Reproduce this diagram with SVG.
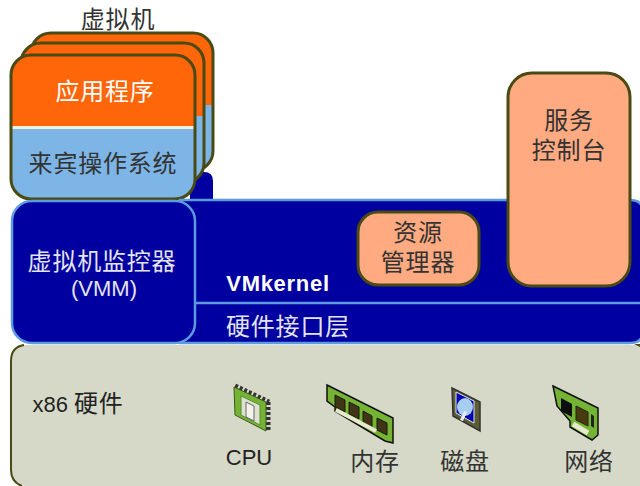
<svg xmlns="http://www.w3.org/2000/svg" width="640" height="486" viewBox="0 0 640 486">
<style>
text{font-family:"Liberation Sans","Noto Sans CJK SC",sans-serif;font-size:24px;letter-spacing:.8px;text-anchor:middle}
.l{font-size:22px;letter-spacing:0}
.w{fill:#fff}.k{fill:#333}.p{fill:#e4e4f0}
.edge{fill:none;stroke:#4a4a14;stroke-width:3}
.blue{fill:#0000a0;stroke:#5c9be0;stroke-width:2.500}
.salmon{fill:#ffaa80;stroke:#4a4a14;stroke-width:3}
.pcb{fill:#74b334;stroke:#111;stroke-width:1.500}
.chip{fill:#3f3512;stroke:#1a1a0a;stroke-width:1}
.icon{filter:url(#soft)}
</style>
<defs>
<filter id="soft" x="-10%" y="-10%" width="120%" height="120%"><feGaussianBlur stdDeviation=".5"/></filter>
<clipPath id="c3"><rect x="31" y="33" width="182" height="138" rx="20"/></clipPath>
<clipPath id="c2"><rect x="21" y="43" width="183" height="140" rx="20"/></clipPath>
<clipPath id="c1"><rect x="11" y="55" width="184" height="144" rx="20"/></clipPath>
</defs>
<rect width="640" height="486" fill="#fff"/>
<g id="vm-base"><path d="M190 172H204Q213 172 213 181V199H190Z" fill="#0000a0"/></g>
<g id="vm-back">
<g clip-path="url(#c3)"><rect x="31" y="33" width="182" height="138" fill="#7db5e6"/><rect x="31" y="33" width="182" height="72" fill="#ff660a"/></g>
<rect class="edge" x="31" y="33" width="182" height="138" rx="20"/>
</g>
<g id="vm-middle">
<g clip-path="url(#c2)"><rect x="21" y="43" width="183" height="140" fill="#7db5e6"/><rect x="21" y="43" width="183" height="73" fill="#ff660a"/></g>
<rect class="edge" x="21" y="43" width="183" height="140" rx="20"/>
</g>
<g id="vm-front">
<g clip-path="url(#c1)"><rect x="11" y="55" width="184" height="144" fill="#7db5e6"/><rect x="11" y="55" width="184" height="71" fill="#ff660a"/><rect x="11" y="126" width="184" height="3" fill="#f4f0e0"/></g>
<rect class="edge" x="11" y="55" width="184" height="144" rx="20"/>
<text class="w" x="105" y="100">应用程序</text>
<text class="k" x="103" y="172">来宾操作系统</text>
</g>
<text id="vm-label" class="k" x="118" y="28">虚拟机</text>
<g id="vmkernel">
<path class="blue" d="M180 200H630Q643 200 643 212V331Q643 343 630 343H180Z"/>
<path d="M195 303H640" stroke="#5c9be0" stroke-width="2.500" fill="none"/>
<text class="w l" x="278" y="291" style="font-weight:bold;font-size:22px;letter-spacing:.7px">VMkernel</text>
<text class="p" x="288" y="335">硬件接口层</text>
</g>
<g id="vmm">
<rect class="blue" x="12" y="201" width="183" height="142" rx="20"/>
<text class="p" x="102" y="270">虚拟机监控器</text>
<text class="p l" x="104" y="296">(VMM)</text>
</g>
<g id="resource-manager">
<rect class="salmon" x="358" y="212" width="121" height="73" rx="20"/>
<text class="k" x="418" y="241">资源</text>
<text class="k" x="418" y="271">管理器</text>
</g>
<g id="service-console">
<rect class="salmon" x="508" y="73" width="122" height="213" rx="24"/>
<text class="k" x="569" y="129">服务</text>
<text class="k" x="569" y="159">控制台</text>
</g>
<g id="hardware">
<path d="M640 345H27Q11 345 11 361V470Q11 486 27 486H640Z" fill="#d6d9c8"/>
<path d="M24 345Q11 347 11 361V470Q11 482 22 486" fill="none" stroke="#4a4a14" stroke-width="2"/>
<path d="M634 344L640 347V344Z" fill="#4a4a14"/>
<text x="78" y="412" fill="#222"><tspan class="l">x86 </tspan>硬件</text>
</g>
<g id="cpu">
<g class="icon">
<path d="M235 386L269 402M268 402V432" fill="none" stroke="#333" stroke-width="5" stroke-dasharray="3 2"/>
<path d="M234 387L266 402V431L235 415Z" fill="#74b334" stroke="#3c5a1c"/>
<path d="M241 396L260 405V425L241 415Z" fill="#dde1ce" stroke="#5d8a30"/>
<path d="M246 402L254 406V421L246 417Z" fill="#f2f2ea" stroke="#666"/>
</g>
<text class="l" fill="#222" x="249" y="465">CPU</text>
</g>
<g id="memory">
<g class="icon">
<path class="pcb" d="M327 385L393 418V443L385 441L335 411L335 407L327 401Z"/>
<path class="chip" d="M335 395L345 400V412L335 407ZM349 402L359 407V419L349 414ZM363 411L372 416V428L363 423ZM377 418L387 423V435L377 430Z"/>
<path d="M336 410L376 431" stroke="#e6e9cc" stroke-width="4" fill="none"/>
</g>
<text class="k" x="375" y="470">内存</text>
</g>
<g id="disk">
<g class="icon">
<path d="M452 388L480 402V431L453 416Z" fill="#5c5c34" stroke="#333" stroke-width="1.500"/>
<path d="M456 392L474 401V423L456 413Z" fill="#0000b0" stroke="#e8e8e0"/>
<ellipse cx="465" cy="407" rx="8" ry="9" fill="#a8cdf2"/>
<path d="M464 411L460 420L463 421L467 412Z" fill="#e4edf8"/>
</g>
<text class="k" x="465" y="470">磁盘</text>
</g>
<g id="network">
<g class="icon">
<path class="pcb" d="M553 386L598 408V435L592 440L570 427V421L557 406Z"/>
<path d="M561 398L572 404V417L561 411Z" fill="#0a0a0a"/>
<path d="M576 406L588 412V426L576 420Z" fill="#4a3a10" stroke="#222"/>
<path d="M591 414L594 416V428L591 426Z" fill="#222"/>
<path d="M573 424L588 433" stroke="#e6e9cc" stroke-width="5" fill="none"/>
</g>
<text class="k" x="589" y="470">网络</text>
</g>
</svg>
